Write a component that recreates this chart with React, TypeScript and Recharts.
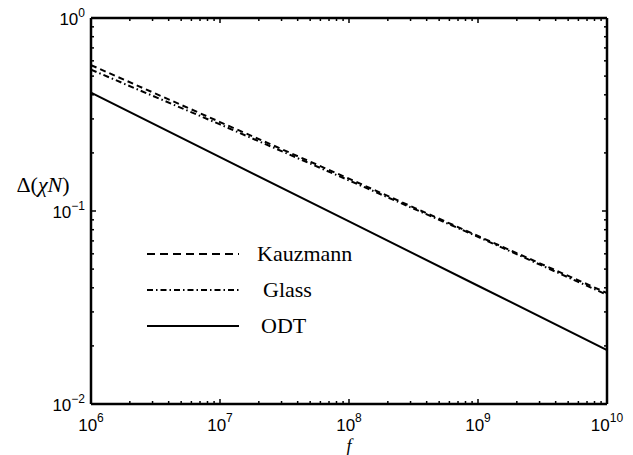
import { LineChart, Line, XAxis, YAxis, Legend } from 'recharts';

// f values at each decade
const fValues = [1e6, 1e7, 1e8, 1e9, 1e10];
const kauzmann = [0.57, 0.289, 0.147, 0.0742, 0.0376];
const glass = [0.54, 0.281, 0.144, 0.0735, 0.0368];
const odt = [0.41, 0.19, 0.0883, 0.041, 0.019];

const xDecades = [6, 7, 8, 9, 10];
const yDecades = [-2, -1, 0];

const data = fValues.map((f, i) => ({ f, kauz: kauzmann[i], glass: glass[i], odt: odt[i] }));

const logTicks = (decades: number[]) => {
  const out: number[] = [];
  for (let i = 0; i < decades.length - 1; i++) {
    for (let k = 1; k <= 9; k++) out.push(k * Math.pow(10, decades[i]));
  }
  out.push(Math.pow(10, decades[decades.length - 1]));
  return out;
};
const xTicks = logTicks(xDecades);
const yTicks = logTicks(yDecades);

const isMajor = (v: number) => Math.abs(Math.log10(v) - Math.round(Math.log10(v))) < 1e-9;

const TICK_FONT = 'Liberation Sans, Arial, sans-serif';
const SERIF = 'Liberation Serif, Times New Roman, serif';

const sup = (v: number) => {
  const e = Math.round(Math.log10(v));
  return e < 0 ? `\u2212${-e}` : `${e}`;
};

// side: which axis the tick belongs to; ticks point inward
function makeTick(side: 'bottom' | 'top' | 'left' | 'right') {
  return (props: any) => {
    const { x, y, payload } = props;
    const v = payload.value;
    const major = isMajor(v);
    const len = major ? 5 : 3;
    let line;
    if (side === 'bottom') line = <line x1={x} y1={y} x2={x} y2={y - len} stroke="#000" strokeWidth={1.5} />;
    else if (side === 'top') line = <line x1={x} y1={y} x2={x} y2={y + len} stroke="#000" strokeWidth={1.5} />;
    else if (side === 'left') line = <line x1={x} y1={y} x2={x + len} y2={y} stroke="#000" strokeWidth={1.5} />;
    else line = <line x1={x} y1={y} x2={x - len} y2={y} stroke="#000" strokeWidth={1.5} />;
    let label = null;
    if (major && side === 'bottom') {
      label = (
        <text x={x} y={y + 27} textAnchor="middle" fontFamily={TICK_FONT} fontSize={17} fill="#000">
          <tspan>10</tspan>
          <tspan dy={-9} fontSize={12}>{sup(v)}</tspan>
        </text>
      );
    } else if (major && side === 'left') {
      label = (
        <text x={x - 6} y={y + 7} textAnchor="end" fontFamily={TICK_FONT} fontSize={17} fill="#000">
          <tspan>10</tspan>
          <tspan dy={-8} fontSize={12}>{sup(v)}</tspan>
        </text>
      );
    }
    return (
      <g>
        {line}
        {label}
      </g>
    );
  };
}

const legendItems = [
  { name: 'Kauzmann', dash: '8 5', dy: 0, tx: 257 },
  { name: 'Glass', dash: '6 3 1.5 3', dy: 36, tx: 263 },
  { name: 'ODT', dash: undefined as string | undefined, dy: 72, tx: 261 },
];

function LegendBox() {
  return (
    <svg width={260} height={110} style={{ display: 'block' }}>
      {legendItems.map((it) => (
        <g key={it.name}>
          <line x1={7} x2={99} y1={18 + it.dy} y2={18 + it.dy} stroke="#000" strokeWidth={2} strokeDasharray={it.dash} />
          <text x={it.tx - 140} y={25 + it.dy} fontFamily={SERIF} fontSize={22} fill="#000">
            {it.name}
          </text>
        </g>
      ))}
    </svg>
  );
}

export default function App() {
  return (
    <div style={{ position: 'absolute', left: 0, top: 0, background: '#fff' }}>
      <LineChart width={633} height={455} data={data} margin={{ top: 8, right: 16, bottom: 21, left: 41 }}>
        <XAxis
          xAxisId="b"
          dataKey="f"
          type="number"
          scale="log"
          domain={[1e6, 1e10]}
          ticks={xTicks}
          interval={0}
          height={30}
          tickSize={0}
          tickMargin={0}
          tickLine={false}
          axisLine={{ stroke: '#000', strokeWidth: 2.5 }}
          tick={makeTick('bottom')}
          allowDataOverflow
          label={{
            content: () => (
              <text x={349} y={452} textAnchor="middle" fontFamily={SERIF} fontStyle="italic" fontSize={18} fill="#000">
                f
              </text>
            ),
          }}
        />
        <XAxis
          xAxisId="t"
          orientation="top"
          dataKey="f"
          type="number"
          scale="log"
          domain={[1e6, 1e10]}
          ticks={xTicks}
          interval={0}
          height={10}
          tickSize={0}
          tickMargin={0}
          tickLine={false}
          axisLine={{ stroke: '#000', strokeWidth: 2.5 }}
          tick={makeTick('top')}
          allowDataOverflow
        />
        <YAxis
          yAxisId="l"
          type="number"
          scale="log"
          domain={[0.01, 1]}
          ticks={yTicks}
          interval={0}
          width={50}
          tickSize={0}
          tickMargin={0}
          tickLine={false}
          axisLine={{ stroke: '#000', strokeWidth: 2.5 }}
          tick={makeTick('left')}
          allowDataOverflow
          label={{
            content: () => (
              <text x={43} y={192} textAnchor="middle" fontFamily={SERIF} fontSize={22} fill="#000">
                <tspan>Δ(</tspan>
                <tspan fontStyle="italic">χN</tspan>
                <tspan fontStyle="normal">)</tspan>
              </text>
            ),
          }}
        />
        <YAxis
          yAxisId="r"
          orientation="right"
          type="number"
          scale="log"
          domain={[0.01, 1]}
          ticks={yTicks}
          interval={0}
          width={10}
          tickSize={0}
          tickMargin={0}
          tickLine={false}
          axisLine={{ stroke: '#000', strokeWidth: 2.5 }}
          tick={makeTick('right')}
          allowDataOverflow
        />
        <Legend
          layout="vertical"
          align="center"
          verticalAlign="middle"
          wrapperStyle={{ left: 140, top: 236, width: 260, height: 110 }}
          content={() => <LegendBox />}
        />
        <Line xAxisId="b" yAxisId="l" dataKey="kauz" name="Kauzmann" stroke="#000" strokeWidth={2} strokeDasharray="6 4" dot={false} isAnimationActive={false} />
        <Line xAxisId="b" yAxisId="l" dataKey="glass" name="Glass" stroke="#000" strokeWidth={2} strokeDasharray="6 3 1.5 3" dot={false} isAnimationActive={false} />
        <Line xAxisId="b" yAxisId="l" dataKey="odt" name="ODT" stroke="#000" strokeWidth={2} dot={false} isAnimationActive={false} />
      </LineChart>
    </div>
  );
}
